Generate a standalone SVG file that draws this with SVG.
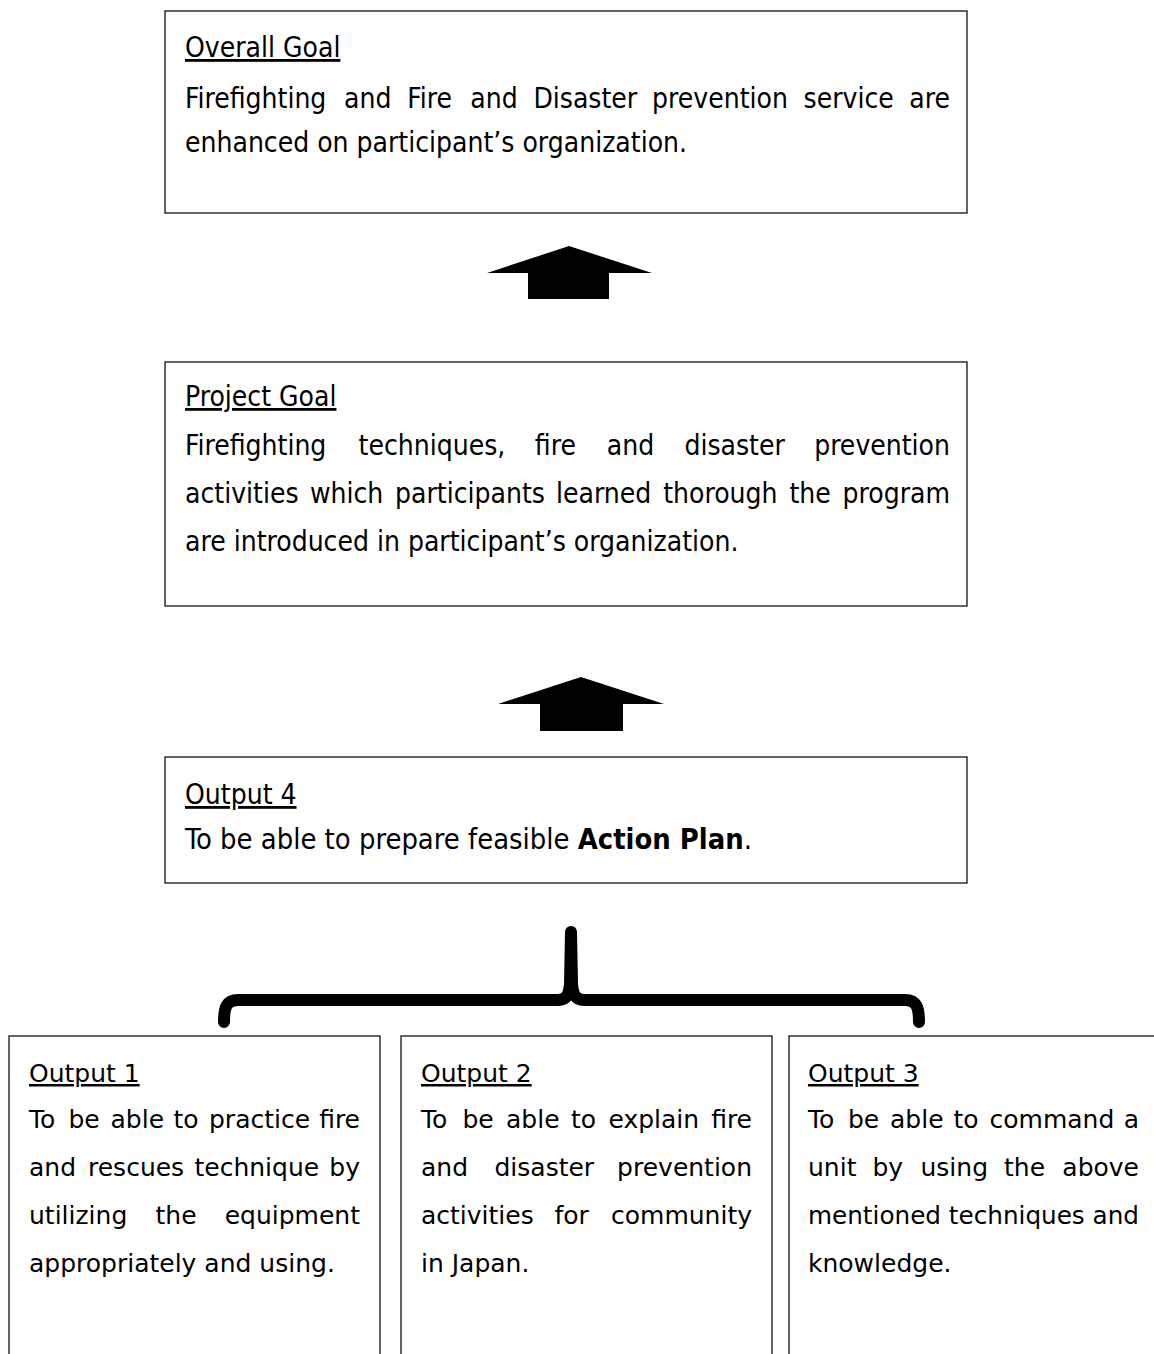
<svg xmlns="http://www.w3.org/2000/svg" width="1154" height="1354" viewBox="0 0 1154 1354">
<style>
.box{fill:#fff;stroke:#111;stroke-width:1.3}
.t{font-family:"DejaVu Sans Condensed","DejaVu Sans","Liberation Sans",sans-serif;font-stretch:condensed;font-size:28px;fill:#000}
.s{font-family:"DejaVu Sans","Liberation Sans",sans-serif;font-size:25px;fill:#000}
.h{text-decoration:underline}
.e{text-anchor:end}
.arrow{fill:#000}
.brace{fill:none;stroke:#000;stroke-width:12;stroke-linecap:round;stroke-linejoin:round}
</style>
<rect width="1154" height="1354" fill="#fff"/>
<g id="overall-goal">
<rect class="box" x="165" y="11" width="802" height="202"/>
<text class="t h" x="185" y="57">Overall Goal</text>
<text class="t" y="108"><tspan x="185">Firefighting</tspan><tspan x="344.1">and</tspan><tspan x="407.2">Fire</tspan><tspan x="470.3">and</tspan><tspan x="533.4">Disaster</tspan><tspan x="652.1">prevention</tspan><tspan x="803.6">service</tspan><tspan class="e" x="950">are</tspan></text>
<text class="t" x="185" y="152">enhanced on participant’s organization.</text>
</g>
<g id="project-goal">
<rect class="box" x="165" y="362" width="802" height="244"/>
<text class="t h" x="185" y="406">Project Goal</text>
<text class="t" y="455"><tspan x="185">Firefighting</tspan><tspan x="358.6">techniques,</tspan><tspan x="534.8">fire</tspan><tspan x="606.8">and</tspan><tspan x="684.4">disaster</tspan><tspan class="e" x="950">prevention</tspan></text>
<text class="t" y="503"><tspan x="185">activities</tspan><tspan x="309.9">which</tspan><tspan x="395">participants</tspan><tspan x="556">learned</tspan><tspan x="663.2">thorough</tspan><tspan x="789.5">the</tspan><tspan class="e" x="950">program</tspan></text>
<text class="t" x="185" y="551">are introduced in participant’s organization.</text>
</g>
<g id="output-4">
<rect class="box" x="165" y="757" width="802" height="126"/>
<text class="t h" x="185" y="804">Output 4</text>
<text class="t" x="185" y="849" textLength="567" lengthAdjust="spacingAndGlyphs">To be able to prepare feasible <tspan font-weight="bold">Action Plan</tspan>.</text>
</g>
<g id="output-1">
<rect class="box" x="9" y="1036" width="371" height="330"/>
<text class="s h" x="29" y="1082">Output 1</text>
<text class="s" y="1128"><tspan x="29">To</tspan><tspan x="68.5">be</tspan><tspan x="110.5">able</tspan><tspan x="173.5">to</tspan><tspan x="209">practice</tspan><tspan class="e" x="360">fire</tspan></text>
<text class="s" y="1176"><tspan x="29">and</tspan><tspan x="88">rescues</tspan><tspan x="194.5">technique</tspan><tspan class="e" x="360">by</tspan></text>
<text class="s" y="1224"><tspan x="29">utilizing</tspan><tspan x="155.5">the</tspan><tspan class="e" x="360">equipment</tspan></text>
<text class="s" x="29" y="1272">appropriately and using.</text>
</g>
<g id="output-2">
<rect class="box" x="401" y="1036" width="371" height="330"/>
<text class="s h" x="421" y="1082">Output 2</text>
<text class="s" y="1128"><tspan x="421">To</tspan><tspan x="462.5">be</tspan><tspan x="506">able</tspan><tspan x="571">to</tspan><tspan x="608.5">explain</tspan><tspan class="e" x="752">fire</tspan></text>
<text class="s" y="1176"><tspan x="421">and</tspan><tspan x="494.5">disaster</tspan><tspan class="e" x="752">prevention</tspan></text>
<text class="s" y="1224"><tspan x="421">activities</tspan><tspan x="554.5">for</tspan><tspan class="e" x="752">community</tspan></text>
<text class="s" x="421" y="1272">in Japan.</text>
</g>
<g id="output-3">
<rect class="box" x="789" y="1036" width="380" height="330"/>
<text class="s h" x="808" y="1082">Output 3</text>
<text class="s" y="1128"><tspan x="808">To</tspan><tspan x="848">be</tspan><tspan x="890">able</tspan><tspan x="953.5">to</tspan><tspan x="989.5">command</tspan><tspan class="e" x="1139">a</tspan></text>
<text class="s" y="1176"><tspan x="808">unit</tspan><tspan x="872.5">by</tspan><tspan x="920.5">using</tspan><tspan x="1004">the</tspan><tspan class="e" x="1139">above</tspan></text>
<text class="s" x="808" y="1224" textLength="331" lengthAdjust="spacingAndGlyphs">mentioned techniques and</text>
<text class="s" x="808" y="1272">knowledge.</text>
</g>
<g id="connectors">
<polygon class="arrow" points="569,246 652,273 609,273 609,299 528,299 528,273 487,273"/>
<polygon class="arrow" points="581,677 664,704 623,704 623,731 540,731 540,704 498,704"/>
<path class="brace" d="M224 1022 C224 1008 226 1000 238 1000 L558 1000 C567 1000 569 994 570 984 L571 932 M571 932 L572 984 C573 994 575 1000 584 1000 L905 1000 C917 1000 919 1008 919 1022"/>
</g>
</svg>
